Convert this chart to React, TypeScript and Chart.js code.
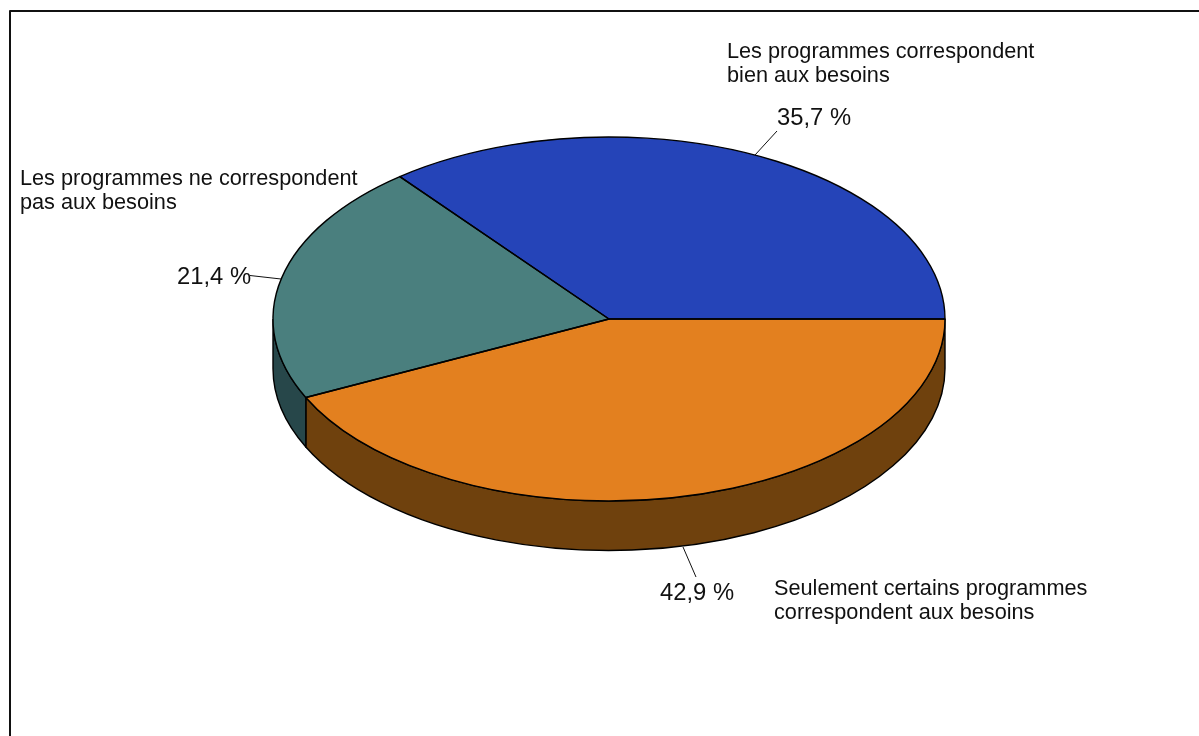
import React, { useEffect, useRef } from "react";
import { Chart, registerables } from "chart.js";

Chart.register(...registerables);

const categories = [
  ["Les programmes correspondent", "bien aux besoins"],
  ["Seulement certains programmes", "correspondent aux besoins"],
  ["Les programmes ne correspondent", "pas aux besoins"],
];
const shares = [35.7, 42.9, 21.4];
const topColors = ["#2544B8", "#E3801F", "#4A7F7E"];
const sideColors = ["#1A2F80", "#6F410D", "#27474A"];

const CX = 609;
const CY = 319;
const RY = 182;
const DEPTH = 49.5;
const FONT = '"Liberation Sans", Arial, sans-serif';

// anchor positions of the annotation text, per slice
const nameAt = [[727, 58], [774, 595], [20, 185]];
const pctAt = [[777, 125], [660, 600], [177, 284]];
const leaders = [
  [[777, 131], [755, 155]],
  [[696, 577], [683, 547]],
  [[250, 275.5], [281, 279]],
];

const pie3d = {
  id: "pie3d",
  beforeDatasetsDraw(chart: any) {
    const { ctx } = chart;
    const arcs = chart.getDatasetMeta(0).data;
    const rx = arcs[0].outerRadius;
    ctx.save();
    ctx.lineWidth = 1.4;
    ctx.strokeStyle = "#000";
    arcs.forEach((arc: any, i: number) => {
      [0, 2 * Math.PI].forEach((off) => {
        const a = Math.max(arc.startAngle, off);
        const b = Math.min(arc.endAngle, off + Math.PI);
        if (b - a < 0.001) return;
        ctx.beginPath();
        ctx.ellipse(CX, CY, rx, RY, 0, a, b, false);
        ctx.ellipse(CX, CY + DEPTH, rx, RY, 0, b, a, true);
        ctx.closePath();
        ctx.fillStyle = sideColors[i];
        ctx.fill();
        ctx.stroke();
      });
    });
    ctx.restore();
    const area = chart.chartArea;
    const my = (area.top + area.bottom) / 2;
    ctx.save();
    ctx.translate(0, CY);
    ctx.scale(1, RY / rx);
    ctx.translate(0, -my);
  },
  afterDatasetsDraw(chart: any) {
    const { ctx } = chart;
    ctx.restore();
    const arcs = chart.getDatasetMeta(0).data;
    const rx = arcs[0].outerRadius;
    ctx.save();
    ctx.lineWidth = 1.4;
    ctx.strokeStyle = "#000";
    ctx.lineJoin = "round";
    arcs.forEach((arc: any) => {
      ctx.beginPath();
      ctx.moveTo(CX, CY);
      ctx.ellipse(CX, CY, rx, RY, 0, arc.startAngle, arc.endAngle, false);
      ctx.closePath();
      ctx.stroke();
    });
    // frame, open on the right and at the bottom
    ctx.lineWidth = 2;
    ctx.strokeStyle = "#111";
    ctx.beginPath();
    ctx.moveTo(10, 736);
    ctx.lineTo(10, 11);
    ctx.lineTo(1199, 11);
    ctx.stroke();
    // leader lines
    ctx.lineWidth = 1;
    ctx.strokeStyle = "#111";
    leaders.forEach(([p, q]) => {
      ctx.beginPath();
      ctx.moveTo(p[0], p[1]);
      ctx.lineTo(q[0], q[1]);
      ctx.stroke();
    });
    // texts
    ctx.fillStyle = "#111";
    ctx.textBaseline = "alphabetic";
    ctx.textAlign = "left";
    categories.forEach((lines, i) => {
      ctx.font = `21.7px ${FONT}`;
      lines.forEach((line, k) => ctx.fillText(line, nameAt[i][0], nameAt[i][1] + k * 24));
      ctx.font = `23.8px ${FONT}`;
      ctx.fillText(`${shares[i].toFixed(1).replace(".", ",")} %`, pctAt[i][0], pctAt[i][1]);
    });
    ctx.restore();
  },
};

export default function App() {
  const ref = useRef<HTMLCanvasElement>(null);
  useEffect(() => {
    const chart = new Chart(ref.current!, {
      type: "pie",
      data: {
        labels: categories.map((c) => c.join(" ")),
        datasets: [{ data: shares, backgroundColor: topColors, borderWidth: 0 }],
      },
      options: {
        responsive: false,
        animation: false,
        rotation: 321.5,
        layout: { padding: { left: 273, right: 254, top: 32, bottom: 32 } },
        plugins: { legend: { display: false }, tooltip: { enabled: false } },
      },
      plugins: [pie3d],
    } as any);
    return () => chart.destroy();
  }, []);
  return (
    <div style={{ position: "fixed", left: 0, top: 0, width: 1199, height: 736, background: "#fff" }}>
      <canvas ref={ref} width={1199} height={736} style={{ display: "block" }} />
    </div>
  );
}
